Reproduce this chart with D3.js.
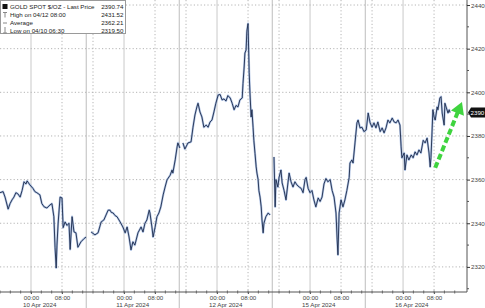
<!DOCTYPE html>
<html>
<head>
<meta charset="utf-8">
<script src="https://cdn.jsdelivr.net/npm/d3@7"></script>
<style>
  html, body { margin: 0; padding: 0; background: #fff; }
  svg { display: block; font-family: "Liberation Sans", Arial, sans-serif; }
</style>
</head>
<body>
<div id="chart"></div>
<script>
// trading hours counted from 10 Apr 00:00 (weekend removed); null price = session break
const hours = [
  -8.0, -7.2, -6.7, -5.9, -5.4, -4.9, -4.4, -3.9, -3.4, -2.8,
  -2.3, -1.8, -1.3, -1.0, -0.3, 0.5, 1.0, 1.5, 2.3, 2.8,
  3.4, 4.1, 4.9, 5.4, 5.9, 6.2, 6.5, 6.7, 7.0, 7.5,
  8.0, 8.3, 8.8, 9.3, 9.8, 10.1, 10.6, 11.1, 11.6, 12.1,
  12.9, 13.7, 14.2,
  14.8,
  15.5, 16.5, 17.3, 18.1, 18.8, 19.9, 20.4, 20.7, 21.2, 21.7,
  22.2, 23.0, 23.7, 24.3, 24.8, 25.3, 25.8, 26.3, 26.8, 27.6,
  28.4, 28.9, 29.4, 29.9, 30.5, 30.7, 31.2, 31.5, 32.0, 32.5,
  33.0, 33.5, 34.1, 34.6, 35.1, 35.9, 36.4, 36.6, 37.2, 37.7,
  37.9, 38.4,
  38.8,
  39.2, 39.7, 40.0, 40.5, 41.3, 41.8, 42.3, 42.8, 43.1, 43.6,
  44.1, 44.6, 45.2, 45.7, 46.2, 46.7, 47.2, 47.7, 48.3, 48.8,
  49.3, 49.8, 50.3, 50.8, 51.4, 51.9, 52.4, 52.9, 53.4, 53.9,
  54.5, 54.7, 55.0, 55.2, 55.5, 55.7, 56.0, 56.3, 56.5, 56.8,
  57.0, 57.3, 57.5, 57.8, 58.1, 58.3, 58.6, 58.8, 59.1, 59.4,
  59.6, 59.9, 60.1, 60.6, 61.2, 61.7,
  62.2,
  62.7, 63.0, 63.2, 63.7, 64.0, 64.5, 64.8, 65.3, 65.8, 66.3,
  66.6, 67.1, 67.6, 68.1, 68.6, 69.2, 69.7, 70.2, 70.7, 71.0,
  71.5, 72.0, 72.5, 73.0, 73.5, 74.1, 74.6, 75.1, 75.6, 76.1,
  76.6, 77.2, 77.7, 78.2, 78.7, 79.0, 79.2, 79.5, 80.0, 80.5,
  81.0, 81.5, 82.1, 82.3, 82.8, 83.1, 83.6, 84.1, 84.4, 84.9,
  85.4, 85.9, 86.5, 87.0, 87.5, 88.0, 88.5, 89.0, 89.5, 90.1,
  90.6, 91.1, 91.6, 92.1, 92.6, 93.2, 93.7, 94.2, 94.7, 95.2,
  95.5, 95.7, 96.3, 96.5, 97.0, 97.5, 98.1, 98.6, 99.1, 99.6,
  100.1, 100.6, 101.2, 101.7, 102.2, 102.7, 103.0, 103.2, 103.5, 103.7,
  104.0, 104.3, 104.8, 105.0, 105.5, 105.8, 106.1, 106.6, 106.8, 107.1,
  107.6, 107.9, 108.1
];

const prices = [
  2354, 2354.5, 2352, 2346.5, 2349, 2350.7, 2352, 2354, 2353.5, 2352,
  2355, 2359, 2358, 2359.4, 2357.6, 2356, 2354.5, 2354, 2353, 2349,
  2347.5, 2347, 2348.4, 2349, 2343, 2329, 2319.5, 2330, 2340, 2352,
  2351.6, 2338, 2340.6, 2339, 2340, 2328, 2343, 2336, 2335.6, 2329,
  2331.5, 2333, 2333.7,
  null,
  2336, 2334.7, 2335.6, 2340.6, 2341.5, 2346, 2346, 2345, 2344.7, 2343.5,
  2343, 2340.6, 2338.3, 2335.6, 2338.3, 2333.7, 2327.8, 2331.5, 2330, 2335.6,
  2338.3, 2336, 2340, 2341.5, 2346, 2344.7, 2338.3, 2333.7, 2338, 2343,
  2344.7, 2347.5, 2353, 2356.6, 2359.9, 2362, 2364.4, 2363, 2369, 2375,
  2376.8, 2374.5,
  null,
  2376.8, 2374, 2375, 2376.8, 2377.3, 2384, 2389.6, 2393.3, 2395, 2391,
  2388.7, 2384, 2385, 2384, 2386.4, 2387.3, 2391, 2395, 2398.8, 2399,
  2396.5, 2397, 2396, 2398.5, 2397.4, 2395, 2392, 2394, 2393.3, 2396.5,
  2397.4, 2404, 2411.6, 2418, 2419.4, 2428, 2431.5, 2409, 2399.7, 2388.7,
  2392, 2384, 2378, 2372, 2365.8, 2363, 2360, 2355, 2352, 2347.5,
  2341.5, 2335.6, 2340, 2343, 2344.7, 2343.8,
  null,
  2370.4, 2347.5, 2360, 2356.6, 2361, 2364.4, 2358.5, 2355, 2350.7, 2358.5,
  2363, 2359, 2356.6, 2359, 2357.6, 2356.6, 2356, 2354, 2360, 2361,
  2356, 2354, 2355, 2350.7, 2347.5, 2351.6, 2350, 2352, 2358, 2360.5,
  2359, 2360, 2355, 2352, 2344.7, 2332.4, 2325.5, 2344.7, 2350.7, 2347.5,
  2350.7, 2355, 2361, 2367.6, 2369, 2367.6, 2376.8, 2386, 2387.3, 2383.7,
  2384, 2382, 2382.8, 2390.5, 2386, 2384, 2386, 2383.7, 2386.4, 2382,
  2383.7, 2381.4, 2383.7, 2387.3, 2386, 2388.2, 2386.4, 2386, 2387.3, 2385,
  2375, 2370, 2372.2, 2364.4, 2371.3, 2369, 2371.3, 2370, 2372.7, 2371.3,
  2373.6, 2372.2, 2378, 2376.8, 2379, 2372.2, 2365.8, 2370, 2382.8, 2392,
  2388.7, 2387.3, 2393.3, 2392, 2397.4, 2398, 2390.5, 2385, 2395, 2393.3,
  2390.5, 2392, 2390.74
];

const days = ["10 Apr 2024", "11 Apr 2024", "12 Apr 2024", "15 Apr 2024", "16 Apr 2024"];
const timeLabels = ["00:00", "08:00"];
const yTicks = [2320, 2340, 2360, 2380, 2400, 2420, 2440];
const legendLabels = ["GOLD SPOT $/OZ - Last Price", "High on 04/12 08:00", "Average", "Low on 04/10 06:30"];
const legendValues = ["2390.74", "2431.52", "2362.21", "2319.50"];
const lastPrice = 2390.74;
// annotation arrow, in [hour, price]
const arrowFrom = [104.3, 2365.4];
const arrowTo = [111.2, 2395.6];

if (hours.length !== prices.length) throw new Error("length mismatch " + hours.length + " " + prices.length);

const width = 485;
const height = 308;
const plotRight = 467;
const plotBottom = 292;
const fontSize = "6.2px";

const svg = d3
  .select("#chart")
  .append("svg")
  .attr("width", width)
  .attr("height", height);

const x = d3.scaleLinear().domain([-8, 112.5]).range([0, plotRight]);
const y = d3.scaleLinear().domain([2308.5, 2442.3]).range([plotBottom, 0]);

// session boundaries sit at 14:15 of the prior day
const sessionStart = (i) => i * 24 - 9.75;

// vertical grid
const grid = svg.append("g");
days.forEach((d, i) => {
  const mid = i * 24;
  [mid + 8, mid + 16].forEach((h) => {
    if (h > -8 && h < 111) {
      grid.append("line")
        .attr("x1", x(h)).attr("x2", x(h))
        .attr("y1", 0).attr("y2", plotBottom)
        .attr("stroke", "#b5b5b5")
        .attr("stroke-dasharray", "1.2,2.2");
    }
  });
  grid.append("line")
    .attr("x1", x(mid)).attr("x2", x(mid))
    .attr("y1", 0).attr("y2", plotBottom)
    .attr("stroke", "#c9c9c9");
  if (i > 0) {
    grid.append("line")
      .attr("x1", x(sessionStart(i))).attr("x2", x(sessionStart(i)))
      .attr("y1", 0).attr("y2", height)
      .attr("stroke", "#bdbdbd");
  }
});

// horizontal grid
grid.selectAll(".hgrid")
  .data(yTicks)
  .enter()
  .append("line")
  .attr("x1", 0).attr("x2", plotRight)
  .attr("y1", (d) => y(d)).attr("y2", (d) => y(d))
  .attr("stroke", "#b5b5b5")
  .attr("stroke-dasharray", "1.2,2.2");

// price line
const line = d3.line()
  .defined((d) => d[1] !== null)
  .x((d) => x(d[0]))
  .y((d) => y(d[1]));
const points = hours.map((h, i) => [h, prices[i]]);

svg.append("path")
  .datum(points)
  .attr("d", line)
  .attr("fill", "none")
  .attr("stroke", "#7e9ed4")
  .attr("stroke-width", 2.2)
  .attr("stroke-linejoin", "round")
  .attr("opacity", 0.6);

svg.append("path")
  .datum(points)
  .attr("d", line)
  .attr("fill", "none")
  .attr("stroke", "#1d2b4c")
  .attr("stroke-width", 0.9)
  .attr("stroke-linejoin", "miter");

// green arrow
const ax0 = x(arrowFrom[0]), ay0 = y(arrowFrom[1]);
const ax1 = x(arrowTo[0]), ay1 = y(arrowTo[1]);
const ang = Math.atan2(ay1 - ay0, ax1 - ax0);
const headLen = 12, headW = 7;
const bx = ax1 - headLen * Math.cos(ang), by = ay1 - headLen * Math.sin(ang);
svg.append("line")
  .attr("x1", ax0).attr("y1", ay0)
  .attr("x2", bx + 2 * Math.cos(ang)).attr("y2", by + 2 * Math.sin(ang))
  .attr("stroke", "#3fd43f")
  .attr("stroke-width", 4)
  .attr("stroke-dasharray", "6,3");
svg.append("polygon")
  .attr("points", [
    [ax1, ay1],
    [bx + headW * Math.sin(ang), by - headW * Math.cos(ang)],
    [bx - headW * Math.sin(ang), by + headW * Math.cos(ang)]
  ].map((p) => p.join(",")).join(" "))
  .attr("fill", "#3fd43f");

// right axis
const yAxis = d3.axisRight(y).tickValues(yTicks).tickSize(3).tickPadding(1).tickFormat(d3.format("d"));
const yg = svg.append("g")
  .attr("transform", `translate(${plotRight},0)`)
  .call(yAxis);
yg.select(".domain").attr("stroke", "#555").attr("d", `M0,0V${plotBottom}`);
yg.selectAll(".tick line").attr("stroke", "#333");
yg.selectAll(".tick text").attr("fill", "#444").style("font-size", fontSize);
yg.selectAll(".minor")
  .data(d3.range(2310, 2441, 20))
  .enter()
  .append("line")
  .attr("x1", 0).attr("x2", 2)
  .attr("y1", (d) => y(d)).attr("y2", (d) => y(d))
  .attr("stroke", "#555");

// bottom axis
const xTickValues = [];
const xTickText = [];
days.forEach((d, i) => {
  timeLabels.forEach((t, j) => {
    xTickValues.push(i * 24 + j * 8);
    xTickText.push(t);
  });
});
const xAxis = d3.axisBottom(x)
  .tickValues(xTickValues)
  .tickSize(2)
  .tickPadding(1.5)
  .tickFormat((d, i) => xTickText[i]);
const xg = svg.append("g")
  .attr("transform", `translate(0,${plotBottom})`)
  .call(xAxis);
xg.select(".domain").attr("stroke", "#555").attr("d", `M0,0H${plotRight}`);
xg.selectAll(".tick line").attr("stroke", "#555");
xg.selectAll(".tick text").attr("fill", "#444").style("font-size", fontSize);

xg.selectAll(".minor")
  .data(d3.range(-8, 112, 8 / 3))
  .enter()
  .append("line")
  .attr("x1", (d) => x(d)).attr("x2", (d) => x(d))
  .attr("y1", -1.5).attr("y2", 1.5)
  .attr("stroke", "#666");

svg.selectAll(".day")
  .data(days)
  .enter()
  .append("text")
  .attr("x", (d, i) => x(i * 24 + 2.25))
  .attr("y", 306.5)
  .attr("text-anchor", "middle")
  .attr("fill", "#444")
  .style("font-size", fontSize)
  .text((d) => d);

// last price tag
const ly = y(lastPrice);
svg.append("polygon")
  .attr("points", `${plotRight + 1},${ly} ${plotRight + 4},${ly - 5} ${width},${ly - 5} ${width},${ly + 5} ${plotRight + 4},${ly + 5}`)
  .attr("fill", "#111");
svg.append("text")
  .attr("x", plotRight + 3.5)
  .attr("y", ly + 2.2)
  .attr("fill", "#fff")
  .style("font-size", fontSize)
  .text(d3.format("d")(Math.floor(lastPrice)));

// legend
const lg = svg.append("g");
lg.append("rect")
  .attr("x", 0.5).attr("y", 0.5)
  .attr("width", 125).attr("height", 33)
  .attr("fill", "#fff")
  .attr("stroke", "#9a9a9a");
const rowY = [6.5, 15, 23, 31];
lg.append("rect").attr("x", 2.5).attr("y", 4).attr("width", 5).attr("height", 5).attr("fill", "#111");
lg.append("path").attr("d", "M3,12.5H7M5,12.5V17.5").attr("stroke", "#888").attr("fill", "none");
lg.append("path").attr("d", "M3,23H7").attr("stroke", "#888").attr("fill", "none");
lg.append("path").attr("d", "M5,27V33M3,33H7").attr("stroke", "#888").attr("fill", "none");
lg.selectAll(".lbl")
  .data(legendLabels)
  .enter()
  .append("text")
  .attr("x", 10)
  .attr("y", (d, i) => rowY[i] + 2.2)
  .attr("fill", "#222")
  .style("font-size", fontSize)
  .text((d) => d);
lg.selectAll(".val")
  .data(legendValues)
  .enter()
  .append("text")
  .attr("x", 123.5)
  .attr("y", (d, i) => rowY[i] + 2.2)
  .attr("text-anchor", "end")
  .attr("fill", "#222")
  .style("font-size", fontSize)
  .text((d) => d);
</script>
</body>
</html>
